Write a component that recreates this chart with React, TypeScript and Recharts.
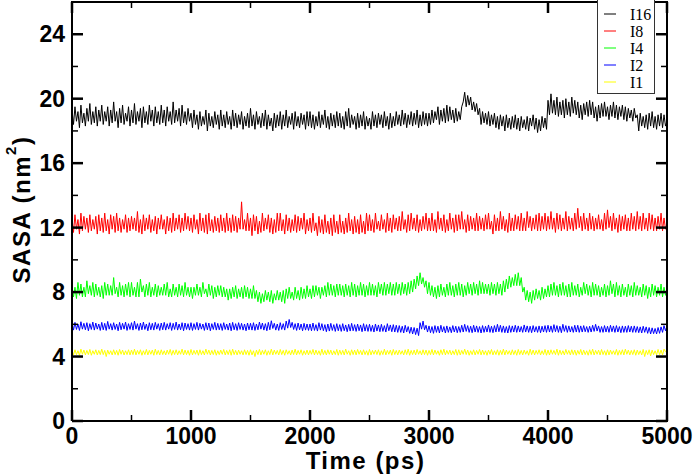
import React from 'react';
import { LineChart, Line, XAxis, YAxis, Legend, Label } from 'recharts';

const TIME_STEP = 12.5;
const X_TICKS = [0, 1000, 2000, 3000, 4000, 5000];
const X_ALL_TICKS = [0, 500, 1000, 1500, 2000, 2500, 3000, 3500, 4000, 4500, 5000];
const Y_TICKS = [0, 4, 8, 12, 16, 20, 24];
const Y_ALL_TICKS = [0, 2, 4, 6, 8, 10, 12, 14, 16, 18, 20, 22, 24];
const SERIES_NAMES = ['I16', 'I8', 'I4', 'I2', 'I1'];
const SERIES_COLORS = ['#000000', '#ff0000', '#00ff00', '#0000ff', '#ffff00'];

const I16 = [
  19.3,18.4,19.5,18.6,19.2,18.2,19.6,18.5,19.1,18.3,19.4,18.6,19.7,18.4,19.2,18.5,19.5,18.3,19.3,18.6,
  19.6,18.4,19.2,18.6,19.5,18.3,19.3,18.5,19.8,18.6,19.2,18.2,19.4,18.5,19.6,18.4,19.1,18.6,19.5,18.3,
  19.3,18.5,19.7,18.4,19.2,18.6,19.4,18.2,19.5,18.5,19.2,18.4,19.6,18.6,19.3,18.3,19.5,18.5,19.2,18.4,
  19.6,18.5,19.3,18.3,19.5,18.6,19.2,18.4,19.8,18.5,19.3,18.6,19.4,18.3,19.6,18.5,19.2,18.4,19.4,18.6,
  19.1,18.2,19.3,18.4,19.0,18.1,19.2,18.3,18.9,18.4,19.3,18.0,19.1,18.3,18.9,18.2,19.2,18.4,19.0,18.1,
  19.3,18.3,19.0,18.2,19.2,18.4,18.9,18.1,19.3,18.3,19.1,18.2,19.0,18.4,19.2,18.1,18.9,18.3,19.1,18.2,
  19.4,18.3,19.0,18.1,19.2,18.4,18.9,18.2,19.1,18.3,19.3,18.1,19.0,18.3,18.8,18.0,19.1,18.2,19.0,18.3,
  19.2,18.1,19.0,18.3,19.3,18.2,18.9,18.4,19.1,18.1,19.2,18.3,18.9,18.2,19.1,18.4,19.0,18.1,19.2,18.3,
  19.2,18.2,19.0,18.1,18.9,18.3,19.2,18.2,19.0,18.4,19.3,18.2,18.9,18.1,19.1,18.3,19.0,18.2,19.2,18.3,
  19.1,18.2,18.9,18.1,19.2,18.3,19.4,18.2,19.0,18.4,18.9,18.1,19.1,18.2,19.0,18.3,19.2,18.1,18.9,18.3,
  18.8,18.1,19.2,18.3,19.0,18.2,19.1,18.4,19.0,18.2,19.2,18.3,18.9,18.1,19.1,18.2,18.9,18.3,19.2,18.4,
  19.0,18.3,19.3,18.4,19.1,18.2,19.0,18.4,19.2,18.3,19.1,18.4,19.3,18.2,19.0,18.3,19.2,18.4,19.1,18.3,
  19.1,18.4,19.3,18.5,19.2,18.7,19.5,18.4,19.3,18.6,19.4,18.5,19.6,18.6,19.5,18.7,19.3,18.5,19.4,18.6,
  19.2,18.7,19.5,19.8,20.4,19.5,20.2,19.6,20.1,19.3,19.8,19.2,19.7,19.0,19.4,18.4,19.2,18.5,19.1,18.4,
  19.2,18.3,19.0,18.4,19.1,18.2,18.9,18.1,19.0,18.3,18.9,18.0,19.0,18.2,18.8,18.1,18.9,18.2,19.0,18.1,
  18.8,18.0,18.9,18.2,18.7,18.1,18.9,18.0,18.8,18.3,19.0,18.1,18.8,17.9,18.7,18.0,18.9,18.2,18.8,18.1,
  19.9,19.0,20.3,19.1,19.9,19.0,20.1,18.9,19.8,19.0,19.9,18.8,20.0,19.0,19.8,18.9,20.1,19.1,19.9,19.0,
  19.8,18.8,19.6,18.7,19.7,19.0,19.8,18.9,19.9,19.0,19.8,18.8,19.5,18.6,19.6,18.8,19.7,18.9,19.8,18.9,
  19.5,18.7,19.6,18.9,19.8,18.8,19.6,18.7,19.5,18.9,19.6,18.7,19.5,18.6,19.4,18.8,19.3,18.6,19.4,18.8,
  19.0,18.0,19.1,18.3,18.9,18.2,19.0,18.1,19.1,18.3,19.2,18.2,18.9,18.1,19.0,18.3,19.1,18.2,19.0,18.3,
  18.6,
];

const I8 = [
  12.6,11.7,12.8,11.9,12.5,11.6,12.9,11.8,12.7,11.9,12.6,11.7,12.8,11.8,12.5,11.9,12.7,11.6,12.8,11.8,
  12.6,11.7,12.9,11.8,12.5,11.6,12.8,11.9,12.7,11.7,12.9,11.8,12.6,11.7,12.5,11.9,12.8,11.7,12.6,11.8,
  12.7,11.9,12.6,11.8,13.0,11.7,12.5,11.6,12.8,11.8,12.6,11.9,12.8,11.7,12.5,11.8,12.7,11.6,12.6,11.9,
  12.8,11.9,12.5,11.6,12.7,11.8,12.6,11.7,12.9,11.8,12.6,11.9,12.8,11.7,12.6,11.8,12.9,11.9,12.7,11.8,
  12.6,11.7,12.8,11.9,12.5,11.6,12.9,11.8,12.6,11.7,12.8,11.6,12.9,11.8,12.5,11.7,12.7,11.8,12.6,11.7,
  12.8,11.8,12.6,11.7,12.9,11.8,12.6,11.7,12.8,11.8,12.7,11.7,12.6,11.9,13.6,11.9,12.5,11.8,12.9,11.8,
  12.6,11.5,12.8,11.8,12.7,11.6,12.4,11.7,12.9,11.8,12.6,11.9,12.8,11.7,12.6,11.6,12.5,11.7,12.9,11.8,
  12.9,11.8,12.5,11.6,12.8,11.8,12.6,11.7,12.5,11.8,12.8,11.7,12.7,11.8,12.6,11.9,12.9,11.6,12.5,11.8,
  12.6,11.7,12.9,11.8,12.3,11.5,12.7,11.7,12.5,11.6,12.8,11.7,12.4,11.6,12.6,11.5,12.8,11.7,12.4,11.6,
  12.8,11.7,12.4,11.6,12.6,11.7,12.9,11.8,12.5,11.6,12.7,11.7,12.5,11.6,12.8,11.7,12.4,11.6,12.9,11.8,
  12.8,11.8,12.5,11.7,12.9,11.9,12.4,11.8,12.8,11.9,12.5,11.7,12.9,11.8,12.6,11.7,12.8,11.9,12.6,11.8,
  12.7,11.8,13.0,11.9,12.5,11.7,12.8,11.8,12.9,11.9,12.6,11.8,12.8,11.7,12.5,11.8,12.7,11.9,12.9,11.8,
  12.6,11.8,12.9,11.8,12.5,11.7,13.0,11.9,12.6,11.8,12.8,11.7,12.5,11.8,12.9,11.9,12.6,11.7,12.8,11.8,
  12.8,11.9,13.0,11.9,12.5,11.7,12.8,11.8,12.7,11.9,12.6,11.8,12.9,11.8,12.7,11.9,12.6,11.8,12.8,11.9,
  12.9,11.9,12.4,11.6,12.8,11.8,12.6,11.8,13.0,11.9,12.7,11.8,12.5,11.7,12.9,11.8,12.6,11.8,12.8,11.9,
  12.7,11.8,12.9,11.8,12.6,11.8,13.0,12.0,12.7,11.8,12.6,11.9,12.8,11.8,12.9,11.8,12.7,11.9,12.9,11.8,
  12.7,11.9,13.0,11.9,12.6,11.7,12.9,11.9,12.8,11.8,12.6,11.9,13.0,11.8,12.7,11.9,12.6,11.8,12.9,11.9,
  13.2,12.0,12.7,11.8,12.9,11.9,12.6,11.8,12.9,11.9,12.7,11.8,12.6,11.9,12.8,11.9,12.5,11.8,12.9,11.9,
  13.1,12.0,12.7,11.8,12.9,11.9,12.6,11.7,12.8,11.8,12.7,11.9,12.8,11.8,12.6,11.8,12.9,11.9,12.7,11.8,
  13.0,11.9,12.7,11.8,12.9,11.9,12.6,11.8,12.9,11.9,12.8,11.8,12.6,11.8,12.7,11.9,12.9,11.8,12.6,11.9,
  12.1,
];

const I4 = [
  8.4,7.7,8.3,7.6,8.6,7.8,8.5,7.7,8.3,7.7,8.7,7.9,8.4,7.8,8.6,7.7,8.5,7.8,8.3,7.7,
  8.4,7.6,8.6,7.8,8.5,7.8,8.4,7.8,8.9,7.9,8.3,7.7,8.6,7.8,8.4,7.7,8.5,7.8,8.6,7.7,
  8.6,7.8,8.3,7.7,8.6,7.7,8.8,8.0,8.4,7.7,8.5,7.8,8.6,7.7,8.3,7.8,8.5,7.7,8.4,7.8,
  8.3,7.8,8.5,7.8,8.6,7.7,8.2,7.7,8.5,7.8,8.3,7.7,8.5,7.8,8.4,7.7,8.6,7.8,8.3,7.7,
  8.3,7.6,8.3,7.8,8.5,7.8,8.3,7.7,8.6,7.9,8.2,7.7,8.5,7.8,8.4,7.6,8.3,7.7,8.4,7.8,
  8.4,7.7,8.3,7.7,8.2,7.5,8.2,7.6,8.3,7.7,8.4,7.6,8.2,7.7,8.3,7.6,8.4,7.7,8.3,7.6,
  8.2,7.6,8.4,7.6,8.1,7.4,8.0,7.3,7.9,7.4,8.1,7.5,8.0,7.4,8.1,7.3,7.9,7.5,8.1,7.5,
  8.0,7.4,8.1,7.3,8.2,7.6,8.3,7.6,8.0,7.5,8.3,7.6,8.1,7.5,8.3,7.6,8.2,7.6,8.4,7.7,
  8.2,7.6,8.4,7.7,8.4,7.8,8.3,7.6,8.3,7.8,8.4,7.7,8.6,7.8,8.5,7.8,8.4,7.7,8.5,7.8,
  8.5,7.8,8.4,7.7,8.5,7.8,8.4,7.7,8.6,7.8,8.5,7.7,8.4,7.8,8.6,7.8,8.5,7.7,8.4,7.8,
  8.6,7.8,8.5,7.8,8.4,7.7,8.6,7.9,8.5,7.8,8.6,7.8,8.5,7.9,8.6,7.8,8.5,7.8,8.6,7.9,
  8.5,7.8,8.6,7.9,8.5,7.8,8.6,7.9,8.7,8.0,8.8,8.2,9.0,8.4,9.2,8.5,8.9,8.3,8.7,7.9,
  8.6,7.8,8.4,7.7,8.3,7.6,8.4,7.7,8.5,7.8,8.3,7.7,8.5,7.8,8.6,7.8,8.4,7.7,8.5,7.8,
  8.6,7.8,8.5,7.7,8.4,7.8,8.6,7.9,8.5,7.8,8.6,7.9,8.5,7.8,8.7,7.9,8.6,7.9,8.5,7.9,
  8.5,7.8,8.6,7.9,8.5,7.8,8.6,7.9,8.5,7.8,8.7,8.0,8.8,8.2,9.0,8.3,8.9,8.4,9.1,8.4,
  9.2,8.4,8.9,8.0,8.3,7.5,8.1,7.4,8.0,7.3,8.1,7.5,8.2,7.6,8.1,7.5,8.3,7.6,8.2,7.7,
  8.4,7.7,8.5,7.8,8.6,7.8,8.4,7.7,8.5,7.8,8.6,7.8,8.4,7.7,8.5,7.7,8.6,7.8,8.4,7.8,
  8.5,7.7,8.3,7.8,8.6,7.9,8.5,7.8,8.4,7.7,8.6,7.8,8.5,7.8,8.4,7.7,8.3,7.8,8.5,7.7,
  8.4,7.8,8.7,7.9,8.5,7.7,8.6,7.8,8.4,7.7,8.5,7.8,8.3,7.7,8.5,7.8,8.4,7.7,8.6,7.8,
  8.4,7.8,8.3,7.7,8.5,7.8,8.4,7.6,8.3,7.7,8.5,7.8,8.4,7.7,8.3,7.8,8.5,7.7,8.3,7.8,
  8.1,
];

const I2 = [
  6.08,5.64,6.12,5.68,6.02,5.62,6.16,5.70,6.06,5.66,6.10,5.60,6.04,5.68,6.14,5.64,6.08,5.70,6.02,5.62,
  6.12,5.66,6.06,5.62,6.18,5.70,6.04,5.64,6.10,5.68,6.02,5.60,6.12,5.66,6.06,5.70,6.14,5.62,6.04,5.68,
  6.10,5.64,6.20,5.70,6.04,5.62,6.08,5.66,6.14,5.68,6.02,5.60,6.10,5.66,6.06,5.64,6.12,5.70,6.04,5.62,
  6.08,5.66,6.12,5.64,6.04,5.70,6.10,5.62,6.06,5.68,6.14,5.64,6.02,5.66,6.10,5.60,6.08,5.68,6.04,5.64,
  6.10,5.62,6.04,5.68,6.12,5.64,6.06,5.70,6.02,5.62,6.10,5.66,6.08,5.60,6.04,5.68,6.12,5.64,6.06,5.66,
  6.04,5.62,6.10,5.68,6.02,5.64,6.08,5.60,6.12,5.66,6.04,5.62,6.10,5.68,6.06,5.64,6.02,5.60,6.08,5.66,
  6.06,5.64,6.10,5.62,6.02,5.66,6.14,5.70,6.08,5.64,6.04,5.60,6.12,5.66,6.22,5.74,6.06,5.64,6.02,5.62,
  6.10,5.68,6.04,5.64,6.20,5.76,6.30,5.80,6.12,5.68,6.04,5.62,6.08,5.66,6.02,5.60,6.06,5.64,6.02,5.62,
  6.02,5.60,6.08,5.62,5.98,5.58,6.10,5.64,6.04,5.60,5.98,5.54,6.02,5.58,6.06,5.62,5.98,5.56,6.04,5.60,
  5.98,5.56,6.04,5.60,5.96,5.54,6.00,5.58,6.06,5.60,5.98,5.56,6.02,5.60,5.96,5.54,6.04,5.58,5.98,5.56,
  6.00,5.56,5.94,5.52,6.02,5.58,5.96,5.54,6.00,5.56,5.92,5.52,6.04,5.60,5.96,5.54,5.98,5.52,5.94,5.50,
  5.92,5.50,5.88,5.46,5.94,5.52,5.86,5.44,5.82,5.40,5.80,5.36,5.76,5.30,6.10,5.70,6.20,5.66,5.94,5.52,
  5.90,5.48,5.86,5.44,5.92,5.50,5.88,5.46,5.94,5.52,5.86,5.46,5.90,5.50,5.84,5.48,5.92,5.52,5.88,5.48,
  5.86,5.50,5.94,5.52,6.00,5.56,5.92,5.50,5.88,5.48,5.94,5.52,5.90,5.50,5.86,5.46,5.92,5.50,5.88,5.52,
  5.96,5.50,5.88,5.48,5.92,5.52,6.00,5.54,5.94,5.50,5.90,5.48,5.86,5.46,5.92,5.50,5.90,5.52,5.94,5.50,
  5.90,5.52,5.86,5.50,5.96,5.52,5.90,5.50,5.88,5.48,5.92,5.52,5.86,5.50,5.90,5.48,5.88,5.52,5.92,5.50,
  5.94,5.52,5.90,5.50,5.98,5.54,5.92,5.50,5.88,5.48,6.00,5.56,5.92,5.50,5.90,5.52,5.86,5.50,5.94,5.52,
  5.94,5.50,5.90,5.52,5.92,5.54,5.86,5.50,5.88,5.52,5.94,5.56,6.00,5.58,5.90,5.50,5.86,5.50,5.92,5.52,
  5.88,5.50,5.94,5.54,5.90,5.50,5.92,5.52,5.86,5.48,5.90,5.50,5.88,5.50,5.92,5.52,5.88,5.50,5.90,5.50,
  5.86,5.48,5.84,5.46,5.88,5.50,5.84,5.44,5.80,5.40,5.78,5.42,5.74,5.40,5.80,5.44,5.84,5.50,5.92,5.60,
  5.90,
];

const I1 = [
  4.38,4.10,4.42,4.12,4.36,4.08,4.46,4.14,4.40,4.10,4.38,4.12,4.44,4.08,4.36,4.14,4.42,4.10,4.38,4.12,
  4.46,4.12,4.38,4.00,4.40,4.14,4.36,4.10,4.42,4.12,4.38,4.08,4.44,4.14,4.40,4.10,4.36,4.12,4.42,4.10,
  4.40,4.12,4.46,4.10,4.38,4.14,4.42,4.08,4.36,4.12,4.44,4.10,4.38,4.14,4.40,4.08,4.46,4.12,4.38,4.10,
  4.42,4.12,4.36,4.10,4.40,4.14,4.44,4.08,4.38,4.12,4.42,4.10,4.36,4.14,4.46,4.10,4.40,4.12,4.38,4.08,
  4.44,4.10,4.38,4.14,4.40,4.08,4.42,4.12,4.36,4.10,4.46,4.14,4.40,4.10,4.38,4.12,4.42,4.08,4.36,4.12,
  4.40,4.14,4.44,4.10,4.38,4.12,4.42,4.08,4.46,4.12,4.38,4.10,4.40,4.14,4.36,4.10,4.42,4.12,4.38,4.08,
  4.42,4.10,4.36,4.00,4.40,4.12,4.44,4.10,4.38,4.14,4.42,4.08,4.36,4.12,4.46,4.10,4.40,4.14,4.38,4.10,
  4.44,4.12,4.38,4.08,4.42,4.14,4.36,4.10,4.40,4.12,4.46,4.10,4.38,4.14,4.42,4.08,4.36,4.12,4.40,4.10,
  4.38,4.14,4.44,4.10,4.40,4.12,4.36,4.08,4.46,4.12,4.38,4.10,4.42,4.14,4.40,4.10,4.36,4.12,4.44,4.08,
  4.40,4.12,4.38,4.10,4.46,4.14,4.36,4.08,4.42,4.12,4.40,4.10,4.44,4.14,4.38,4.10,4.42,4.12,4.36,4.08,
  4.44,4.10,4.38,4.14,4.40,4.12,4.42,4.08,4.36,4.12,4.46,4.10,4.38,4.14,4.40,4.08,4.44,4.12,4.38,4.10,
  4.40,4.14,4.36,4.10,4.42,4.12,4.46,4.08,4.38,4.12,4.40,4.10,4.44,4.14,4.36,4.10,4.42,4.12,4.40,4.08,
  4.38,4.12,4.44,4.10,4.40,4.14,4.36,4.08,4.42,4.12,4.46,4.10,4.38,4.14,4.40,4.10,4.36,4.12,4.44,4.08,
  4.42,4.10,4.38,4.14,4.46,4.12,4.40,4.08,4.36,4.12,4.42,4.10,4.38,4.14,4.44,4.10,4.40,4.12,4.36,4.08,
  4.40,4.14,4.44,4.10,4.36,4.12,4.42,4.08,4.38,4.12,4.46,4.10,4.40,4.14,4.36,4.10,4.42,4.12,4.38,4.08,
  4.44,4.12,4.38,4.10,4.40,4.14,4.36,4.08,4.46,4.12,4.40,4.10,4.38,4.14,4.42,4.10,4.36,4.12,4.44,4.08,
  4.40,4.10,4.42,4.14,4.38,4.12,4.46,4.08,4.40,4.12,4.36,4.10,4.44,4.14,4.38,4.10,4.42,4.12,4.40,4.08,
  4.38,4.14,4.44,4.10,4.40,4.12,4.36,4.08,4.42,4.12,4.46,4.10,4.38,4.14,4.40,4.10,4.44,4.12,4.36,4.08,
  4.42,4.10,4.40,4.14,4.36,4.12,4.44,4.08,4.38,4.12,4.42,4.10,4.46,4.14,4.40,4.10,4.38,4.12,4.42,4.08,
  4.40,4.12,4.36,4.10,4.44,4.00,4.38,4.12,4.42,4.04,4.40,4.12,4.36,4.10,4.44,4.12,4.40,4.10,4.46,4.30,
  4.30,
];

const SERIES_VALUES = [I16, I8, I4, I2, I1];
const TIMES = I16.map((_, i) => i * TIME_STEP);
const data = TIMES.map((t, i) => {
  const row: Record<string, number> = { t };
  SERIES_NAMES.forEach((name, s) => {
    row[name] = SERIES_VALUES[s][i];
  });
  return row;
});

// layout of the plot box (chart margins + axis sizes)
const W = 696;
const H = 475;
const PLOT = { top: 2, right: 29, bottom: 54, left: 72 };
const PLOT_RIGHT_X = W - PLOT.right;
const PLOT_BOTTOM_Y = H - PLOT.bottom;
const X_DOMAIN = [0, 5000];
const Y_DOMAIN = [0, 26];

const SANS = 'Liberation Sans, Arial, Helvetica, sans-serif';
const SERIF = 'Liberation Serif, Times New Roman, serif';
const frameLine = { stroke: '#000', strokeWidth: 2 };
const MAJOR_LEN = 11;
const MINOR_LEN = 6;
const MAJOR_W = 2.5;
const MINOR_W = 1.5;
const LABEL_GAP = 7;
const LABEL_SIZE = 23;

const isMajorX = (v: number) => X_TICKS.includes(v);
const isMajorY = (v: number) => Y_TICKS.includes(v);

// x ticks: inward mark on the bottom edge, label under it
const BottomTick = (props: any) => {
  const { x, y, payload } = props;
  const major = isMajorX(payload.value);
  return (
    <g>
      <line x1={x} x2={x} y1={y} y2={y - (major ? MAJOR_LEN : MINOR_LEN)} stroke="#000"
        strokeWidth={major ? MAJOR_W : MINOR_W} />
      {major && (
        <text x={x} y={y + LABEL_GAP} dy="0.71em" textAnchor="middle" fontFamily={SANS}
          fontWeight="bold" fontSize={LABEL_SIZE} fill="#000">{payload.value}</text>
      )}
    </g>
  );
};

// y ticks: inward mark on the left edge, label left of it
const LeftTick = (props: any) => {
  const { x, y, payload } = props;
  const major = isMajorY(payload.value);
  return (
    <g>
      <line x1={x} x2={x + (major ? MAJOR_LEN : MINOR_LEN)} y1={y} y2={y} stroke="#000"
        strokeWidth={major ? MAJOR_W : MINOR_W} />
      {major && (
        <text x={x - LABEL_GAP} y={y} dy="0.355em" textAnchor="end" fontFamily={SANS}
          fontWeight="bold" fontSize={LABEL_SIZE} fill="#000">{payload.value}</text>
      )}
    </g>
  );
};

// mirrored top / right frame with the same tick positions as the bottom / left axes
const plotW = PLOT_RIGHT_X - PLOT.left;
const plotH = PLOT_BOTTOM_Y - PLOT.top;
const toX = (v: number) => PLOT.left + ((v - X_DOMAIN[0]) / (X_DOMAIN[1] - X_DOMAIN[0])) * plotW;
const toY = (v: number) => PLOT_BOTTOM_Y - ((v - Y_DOMAIN[0]) / (Y_DOMAIN[1] - Y_DOMAIN[0])) * plotH;

const MirrorFrame = () => (
  <svg width={W} height={H} style={{ position: 'absolute', left: 0, top: 0, pointerEvents: 'none', zIndex: 2 }}>
    <line x1={PLOT.left - 1} x2={PLOT_RIGHT_X + 1} y1={PLOT.top} y2={PLOT.top} stroke="#000" strokeWidth={2} />
    <line x1={PLOT_RIGHT_X} x2={PLOT_RIGHT_X} y1={PLOT.top - 1} y2={PLOT_BOTTOM_Y + 1} stroke="#000" strokeWidth={2} />
    {X_ALL_TICKS.map((v) => {
      const major = isMajorX(v);
      const x = toX(v);
      return (
        <line key={`t${v}`} x1={x} x2={x} y1={PLOT.top} y2={PLOT.top + (major ? MAJOR_LEN : MINOR_LEN)}
          stroke="#000" strokeWidth={major ? MAJOR_W : MINOR_W} />
      );
    })}
    {Y_ALL_TICKS.map((v) => {
      const major = isMajorY(v);
      const y = toY(v);
      return (
        <line key={`r${v}`} x1={PLOT_RIGHT_X} x2={PLOT_RIGHT_X - (major ? MAJOR_LEN : MINOR_LEN)} y1={y} y2={y}
          stroke="#000" strokeWidth={major ? MAJOR_W : MINOR_W} />
      );
    })}
  </svg>
);

const renderXTitle = (props: any) => {
  const vb = props.viewBox || { x: 72, y: 421, width: 595, height: 54 };
  return (
    <text x={vb.x + vb.width / 2 - 4} y={vb.y + 48} textAnchor="middle" fontFamily={SANS}
      fontWeight="bold" fontSize={24} letterSpacing={1.5} fill="#000">
      Time (ps)
    </text>
  );
};

const renderYTitle = (props: any) => {
  const vb = props.viewBox || { x: 0, y: 2, width: 72, height: 419 };
  const cx = vb.x + 30;
  const cy = vb.y + vb.height / 2 - 2;
  return (
    <text x={cx} y={cy} transform={`rotate(-90, ${cx}, ${cy})`} textAnchor="middle" fontFamily={SANS}
      fontWeight="bold" fontSize={24} letterSpacing={1.5} fill="#000">
      SASA (nm<tspan dy={-14} fontSize={15}>2</tspan><tspan dy={14}>)</tspan>
    </text>
  );
};

const renderLegend = () => (
  <svg width={58} height={95} style={{ display: 'block' }}>
    <rect x={0.5} y={0.5} width={57} height={94} fill="#fff" stroke="#333" strokeWidth={1} />
    {SERIES_NAMES.map((name, i) => {
      const cy = 15 + 17 * i;
      return (
        <g key={name}>
          <line x1={7} x2={19} y1={cy} y2={cy} stroke={SERIES_COLORS[i]} strokeWidth={1} />
          <text x={33} y={cy + 5.5} fontFamily={SERIF} fontSize={16} fill="#000">{name}</text>
        </g>
      );
    })}
  </svg>
);

export default function App() {
  return (
    <div style={{ position: 'absolute', left: 0, top: 0, width: W, height: H, background: '#fff' }}>
      <LineChart width={W} height={H} data={data}
        margin={{ top: PLOT.top, right: PLOT.right, bottom: 0, left: 0 }}>
        <XAxis dataKey="t" type="number" domain={X_DOMAIN} ticks={X_ALL_TICKS} interval={0}
          tickLine={false} tickSize={0} tickMargin={0} axisLine={frameLine} tick={BottomTick}
          height={PLOT.bottom} allowDataOverflow label={<Label content={renderXTitle} />} />
        <YAxis type="number" domain={Y_DOMAIN} ticks={Y_ALL_TICKS} interval={0} width={PLOT.left}
          tickLine={false} tickSize={0} tickMargin={0} axisLine={frameLine} tick={LeftTick}
          allowDataOverflow label={<Label content={renderYTitle} />} />
        {SERIES_NAMES.map((name, i) => (
          <Line key={name} type="linear" dataKey={name} name={name}
            stroke={SERIES_COLORS[i]} strokeWidth={1} dot={false} activeDot={false}
            isAnimationActive={false} />
        ))}
        <Legend layout="horizontal" verticalAlign="middle" align="center" content={renderLegend}
          wrapperStyle={{ position: 'absolute', left: 597, top: -1, width: 58, height: 95, zIndex: 3 }} />
      </LineChart>
      <MirrorFrame />
    </div>
  );
}
